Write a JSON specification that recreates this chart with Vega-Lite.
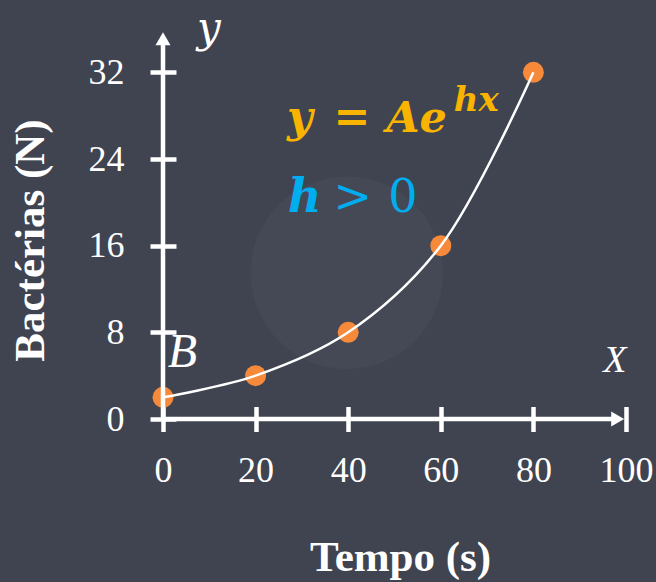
{
  "$schema": "https://vega.github.io/schema/vega-lite/v6.json",
  "width": 463,
  "height": 390,
  "autosize": {"type": "none"},
  "padding": {"left": 163, "top": 29, "right": 30, "bottom": 163},
  "background": "#3f4450",
  "config": {
    "view": {"stroke": null},
    "axis": {
      "grid": false,
      "domain": false,
      "tickColor": "#ffffff",
      "tickWidth": 4.5,
      "tickSize": 25,
      "labelColor": "#ffffff",
      "labelFont": "Liberation Serif",
      "labelFontSize": 36,
      "titleColor": "#ffffff",
      "titleFont": "Liberation Serif",
      "titleFontWeight": "bold",
      "titleFontSize": 43
    }
  },
  "data": {
    "values": [
      {"tempo": 0, "bacterias": 2},
      {"tempo": 20, "bacterias": 4},
      {"tempo": 40, "bacterias": 8},
      {"tempo": 60, "bacterias": 16},
      {"tempo": 80, "bacterias": 32}
    ]
  },
  "layer": [
    {
      "data": {"values": [{}]},
      "mark": {"type": "point", "filled": true, "shape": "circle", "size": 37000, "color": "#ffffff", "opacity": 0.03},
      "encoding": {
        "x": {"datum": 39.7, "type": "quantitative"},
        "y": {"datum": 13.5, "type": "quantitative"}
      }
    },
    {
      "mark": {"type": "point", "filled": true, "shape": "circle", "size": 441, "color": "#f7893a", "opacity": 1},
      "encoding": {
        "x": {
          "field": "tempo", "type": "quantitative",
          "scale": {"domain": [0, 100], "nice": false, "zero": false},
          "axis": {
            "title": "Tempo (s)",
            "orient": "bottom",
            "offset": -12.5,
            "values": [0, 20, 40, 60, 80, 100],
            "labelPadding": 22,
            "labelAlign": "center",
            "titleX": 237,
            "titleY": 163.5,
            "titleBaseline": "alphabetic",
            "titleAnchor": "middle"
          }
        },
        "y": {
          "field": "bacterias", "type": "quantitative",
          "scale": {"domain": [0, 36], "nice": false, "zero": false},
          "axis": {
            "title": "Bactérias (N)",
            "orient": "left",
            "offset": -13,
            "values": [0, 8, 16, 24, 32],
            "tickSize": 26,
            "labelPadding": 26,
            "titleX": -133,
            "titleY": 211,
            "titleAngle": 270,
            "titleBaseline": "alphabetic",
            "titleAlign": "center"
          }
        }
      }
    },
    {
      "mark": {"type": "line", "color": "#ffffff", "strokeWidth": 2.5, "interpolate": "catmull-rom"},
      "encoding": {
        "x": {"field": "tempo", "type": "quantitative"},
        "y": {"field": "bacterias", "type": "quantitative"}
      }
    },
    {
      "data": {"values": [{}]},
      "mark": {"type": "rule", "color": "#ffffff", "strokeWidth": 4.5},
      "encoding": {
        "x": {"datum": 0, "type": "quantitative"},
        "x2": {"datum": 98.5},
        "y": {"datum": 0, "type": "quantitative"}
      }
    },
    {
      "data": {"values": [{}]},
      "mark": {"type": "rule", "color": "#ffffff", "strokeWidth": 4.5},
      "encoding": {
        "x": {"datum": 0, "type": "quantitative"},
        "y": {"datum": 0, "type": "quantitative"},
        "y2": {"datum": 35}
      }
    },
    {
      "data": {"values": [{}]},
      "mark": {"type": "point", "shape": "triangle-right", "filled": true, "size": 225, "color": "#ffffff", "opacity": 1},
      "encoding": {
        "x": {"datum": 98.2, "type": "quantitative"},
        "y": {"datum": 0, "type": "quantitative"}
      }
    },
    {
      "data": {"values": [{}]},
      "mark": {"type": "point", "shape": "triangle-up", "filled": true, "size": 225, "color": "#ffffff", "opacity": 1},
      "encoding": {
        "x": {"datum": 0, "type": "quantitative"},
        "y": {"datum": 35.1, "type": "quantitative"}
      }
    },
    {
      "data": {"values": [{}]},
      "mark": {"type": "text", "text": "y", "font": "DejaVu Serif", "fontStyle": "italic", "fontSize": 42, "color": "#ffffff", "align": "center", "baseline": "alphabetic"},
      "encoding": {
        "x": {"datum": 9.9, "type": "quantitative"},
        "y": {"datum": 34.8, "type": "quantitative"}
      }
    },
    {
      "data": {"values": [{}]},
      "mark": {"type": "text", "text": "X", "font": "Liberation Serif", "fontStyle": "italic", "fontSize": 38, "color": "#ffffff", "align": "center", "baseline": "alphabetic"},
      "encoding": {
        "x": {"datum": 97.6, "type": "quantitative"},
        "y": {"datum": 4.34, "type": "quantitative"}
      }
    },
    {
      "data": {"values": [{}]},
      "mark": {"type": "text", "text": "B", "font": "Liberation Serif", "fontStyle": "italic", "fontSize": 48, "color": "#ffffff", "align": "left", "baseline": "alphabetic"},
      "encoding": {
        "x": {"datum": 1.0, "type": "quantitative"},
        "y": {"datum": 4.8, "type": "quantitative"}
      }
    },
    {
      "data": {"values": [{}]},
      "mark": {"type": "text", "text": "y", "font": "DejaVu Serif", "fontStyle": "italic", "fontWeight": "bold", "fontSize": 44, "color": "#f8b400", "align": "left", "baseline": "alphabetic"},
      "encoding": {
        "x": {"datum": 26.8, "type": "quantitative"},
        "y": {"datum": 26.5, "type": "quantitative"}
      }
    },
    {
      "data": {"values": [{}]},
      "mark": {"type": "text", "text": "=", "font": "DejaVu Serif", "fontWeight": "bold", "fontSize": 44, "color": "#f8b400", "align": "center", "baseline": "alphabetic"},
      "encoding": {
        "x": {"datum": 40.8, "type": "quantitative"},
        "y": {"datum": 26.5, "type": "quantitative"}
      }
    },
    {
      "data": {"values": [{}]},
      "mark": {"type": "text", "text": "Ae", "font": "DejaVu Serif", "fontStyle": "italic", "fontWeight": "bold", "fontSize": 43, "color": "#f8b400", "align": "left", "baseline": "alphabetic"},
      "encoding": {
        "x": {"datum": 48.2, "type": "quantitative"},
        "y": {"datum": 26.5, "type": "quantitative"}
      }
    },
    {
      "data": {"values": [{}]},
      "mark": {"type": "text", "text": "hx", "font": "DejaVu Serif", "fontStyle": "italic", "fontWeight": "bold", "fontSize": 34, "color": "#f8b400", "align": "left", "baseline": "alphabetic"},
      "encoding": {
        "x": {"datum": 62.8, "type": "quantitative"},
        "y": {"datum": 28.4, "type": "quantitative"}
      }
    },
    {
      "data": {"values": [{}]},
      "mark": {"type": "text", "text": "h", "font": "DejaVu Serif", "fontStyle": "italic", "fontWeight": "bold", "fontSize": 46, "color": "#00aeef", "align": "left", "baseline": "alphabetic"},
      "encoding": {
        "x": {"datum": 27.0, "type": "quantitative"},
        "y": {"datum": 19.1, "type": "quantitative"}
      }
    },
    {
      "data": {"values": [{}]},
      "mark": {"type": "text", "text": ">", "font": "DejaVu Serif", "fontSize": 46, "color": "#00aeef", "align": "center", "baseline": "alphabetic"},
      "encoding": {
        "x": {"datum": 41.0, "type": "quantitative"},
        "y": {"datum": 19.1, "type": "quantitative"}
      }
    },
    {
      "data": {"values": [{}]},
      "mark": {"type": "text", "text": "0", "font": "DejaVu Serif", "fontSize": 46, "color": "#00aeef", "align": "center", "baseline": "alphabetic"},
      "encoding": {
        "x": {"datum": 51.8, "type": "quantitative"},
        "y": {"datum": 19.1, "type": "quantitative"}
      }
    }
  ]
}
